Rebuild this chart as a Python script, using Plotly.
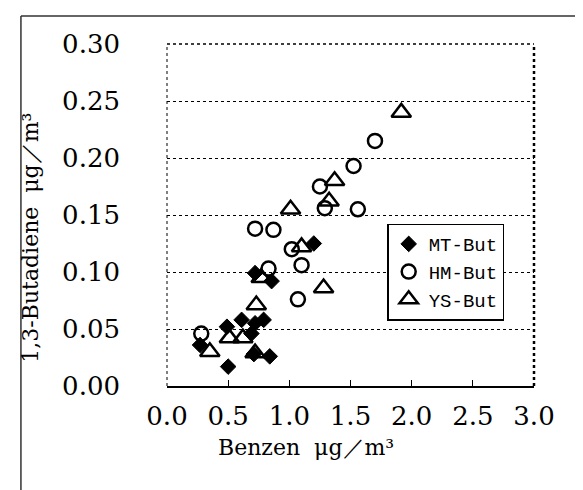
import plotly.graph_objects as go

# Benzen (x) vs 1,3-Butadiene (y), µg/m3
mt_x = [0.27, 0.49, 0.50, 0.61, 0.69, 0.72, 0.71, 0.79, 0.84, 0.72, 0.855, 1.20]
mt_y = [0.036, 0.052, 0.017, 0.058, 0.046, 0.055, 0.028, 0.058, 0.026, 0.099, 0.092, 0.125]

hm_x = [0.28, 0.72, 0.87, 0.83, 1.02, 1.10, 1.07, 1.25, 1.29, 1.56, 1.525, 1.70]
hm_y = [0.046, 0.138, 0.137, 0.103, 0.120, 0.106, 0.076, 0.175, 0.156, 0.155, 0.193, 0.215]

ys_x = [0.35, 0.51, 0.62, 0.72, 0.73, 0.77, 1.01, 1.10, 1.28, 1.325, 1.37, 1.915]
ys_y = [0.030, 0.042, 0.042, 0.029, 0.071, 0.095, 0.155, 0.122, 0.086, 0.162, 0.180, 0.240]

x_ticks = [0.0, 0.5, 1.0, 1.5, 2.0, 2.5, 3.0]
y_ticks = [0.00, 0.05, 0.10, 0.15, 0.20, 0.25, 0.30]

SERIF = "DejaVu Serif"

fig = go.Figure()
fig.add_trace(go.Scatter(
    x=mt_x, y=mt_y, mode="markers", name="MT-But",
    marker=dict(symbol="diamond", size=12, color="black", line=dict(color="black", width=1)),
))
fig.add_trace(go.Scatter(
    x=hm_x, y=hm_y, mode="markers", name="HM-But",
    marker=dict(symbol="circle-open", size=14, color="black", line=dict(color="black", width=2.5)),
))
fig.add_trace(go.Scatter(
    x=ys_x, y=ys_y, mode="markers", name="YS-But",
    marker=dict(symbol="triangle-up-open", size=17, color="black", line=dict(color="black", width=2.5)),
))

dotted = dict(color="black", width=1.5, dash="dot")
shapes = [
    # plot frame: dotted top/left/right, solid bottom
    dict(type="line", xref="paper", yref="paper", x0=0, x1=1, y0=1, y1=1, line=dotted),
    dict(type="line", xref="paper", yref="paper", x0=0, x1=0, y0=0, y1=1, line=dict(color="black", width=1, dash="dot")),
    dict(type="line", xref="paper", yref="paper", x0=1, x1=1, y0=0, y1=1, line=dict(color="black", width=2.5, dash="dot")),
    # outer frame of the figure (top and left edge)
    dict(type="line", xref="paper", yref="paper", x0=-0.398, x1=1.16, y0=1.082, y1=1.082,
         line=dict(color="#333", width=1.5)),
    dict(type="line", xref="paper", yref="paper", x0=-0.398, x1=-0.398, y0=-0.33, y1=1.082,
         line=dict(color="#333", width=1.5)),
]

fig.update_layout(
    width=583, height=490,
    margin=dict(l=159, r=57, t=36, b=112),
    paper_bgcolor="white", plot_bgcolor="white",
    font=dict(family=SERIF, color="black"),
    shapes=shapes,
    showlegend=True,
    legend=dict(
        x=0.60, y=0.475, xanchor="left", yanchor="top",
        bordercolor="black", borderwidth=1.5, bgcolor="white",
        font=dict(family="Liberation Mono", size=19, color="black"),
        itemsizing="trace", itemwidth=30,
    ),
    xaxis=dict(
        range=[0, 3.0], tickvals=x_ticks, ticktext=[f"{v:.1f}" for v in x_ticks],
        showgrid=False, zeroline=False,
        showline=True, linecolor="black", linewidth=2,
        ticks="inside", ticklen=6, tickcolor="black", tickwidth=1,
        tickfont=dict(family=SERIF, size=26), ticklabelstandoff=6,
    ),
    yaxis=dict(
        range=[0, 0.30], tickvals=y_ticks, ticktext=[f"{v:.2f}" for v in y_ticks],
        showgrid=True, gridcolor="black", griddash="dot", gridwidth=1,
        zeroline=False, showline=False, ticks="",
        tickfont=dict(family=SERIF, size=26), ticklabelstandoff=46,
    ),
    annotations=[
        dict(text="Benzen  μg／m³", xref="paper", yref="paper", x=0.38, y=-0.18,
             xanchor="center", yanchor="middle", showarrow=False,
             font=dict(family=SERIF, size=22, color="black")),
        dict(text="1,3-Butadiene  μg／m³", xref="paper", yref="paper", x=-0.372, y=0.435,
             xanchor="center", yanchor="middle", showarrow=False, textangle=-90,
             font=dict(family=SERIF, size=22, color="black")),
    ],
)

fig.write_html("out.html")
